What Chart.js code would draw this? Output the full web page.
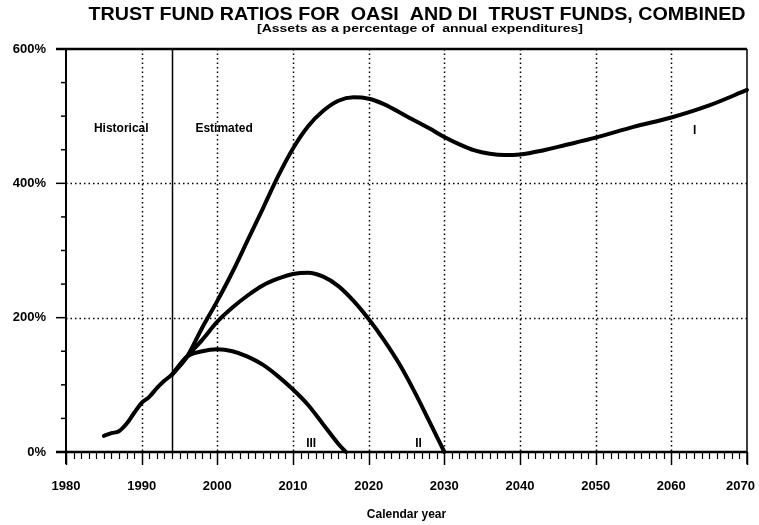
<!DOCTYPE html>
<html>
<head>
<meta charset="utf-8">
<script src="https://cdn.jsdelivr.net/npm/chart.js@4/dist/chart.umd.min.js"></script>
<style>
  html, body { margin: 0; padding: 0; background: #fff; }
  #wrap { width: 759px; height: 525px; position: relative; }
</style>
</head>
<body>
<div id="wrap"><canvas id="trustChart"></canvas></div>
<script>
// --- Data --------------------------------------------------------------------
var histYears  = [1985, 1986, 1987, 1988, 1989, 1990, 1991, 1992, 1993, 1994];
var histRatio  = [24, 28, 31, 42, 58, 73, 82, 95, 106, 115];

var altIYears  = [1994, 1996, 1998, 2000, 2002, 2004, 2006, 2008, 2010, 2012, 2014, 2016, 2018, 2020, 2022, 2025, 2028, 2030, 2032, 2034, 2036, 2038, 2040, 2043, 2046, 2050, 2055, 2060, 2065, 2070];
var altIRatio  = [115, 142, 185, 225, 268, 315, 362, 410, 452, 485, 508, 523, 528, 526, 518, 500, 482, 469, 458, 449, 444, 442, 443, 449, 457, 468, 484, 498, 516, 539];

var altIIYears = [1994, 1996, 1998, 2000, 2002, 2004, 2006, 2008, 2010, 2012, 2014, 2016, 2018, 2020, 2022, 2024, 2026, 2028, 2030];
var altIIRatio = [115, 142, 167, 194, 215, 233, 248, 258, 265, 267, 261, 247, 225, 198, 167, 132, 91, 46, 0];

var altIIIYears = [1994, 1996, 1998, 2000, 2002, 2004, 2006, 2008, 2010, 2012, 2014, 2016, 2017];
var altIIIRatio = [115, 142, 150, 153, 150, 142, 130, 113, 93, 70, 41, 12, 0];

var yearTicks    = [1980, 1990, 2000, 2010, 2020, 2030, 2040, 2050, 2060, 2070];
var percentTicks = [0, 200, 400, 600];

var titleText    = 'TRUST FUND RATIOS FOR  OASI  AND DI  TRUST FUNDS, COMBINED';
var subtitleText = '[Assets as a percentage of  annual expenditures]';

// text placed on the plot, in data units
var plotNotes = [
  { text: 'Historical', x: 1987.3, y: 482, align: 'center' },
  { text: 'Estimated',  x: 1997.1, y: 482, align: 'left' },
  { text: 'I',          x: 2063.1, y: 479, align: 'center' },
  { text: 'II',         x: 2026.6, y: 13,  align: 'center' },
  { text: 'III',        x: 2012.4, y: 13,  align: 'center' }
];
var splitYear = 1994;

// --- Helpers -----------------------------------------------------------------
function toPoints(xs, ys){
  return xs.map(function(x, i){ return { x: x, y: ys[i] }; });
}

function curve(label, xs, ys){
  return {
    label: label,
    data: toPoints(xs, ys),
    showLine: true,
    borderColor: '#000',
    borderWidth: 4,
    pointRadius: 0,
    cubicInterpolationMode: 'monotone',
    borderCapStyle: 'round',
    borderJoinStyle: 'round',
    fill: false,
    clip: 4
  };
}

var FONT = '"Liberation Sans", Arial, sans-serif';

// draws the frame, dotted grid, tick marks, notes and titles
var framePlugin = {
  id: 'framePlugin',
  beforeDatasetsDraw: function(chart){
    var ctx = chart.ctx, xs = chart.scales.x, ys = chart.scales.y;
    var a = chart.chartArea;
    ctx.save();
    ctx.strokeStyle = '#000';
    ctx.lineWidth = 1.5;
    ctx.setLineDash([1.5, 3]);
    for (var yr = 1990; yr <= 2060; yr += 10){
      var px = Math.round(xs.getPixelForValue(yr)) + 0.5;
      ctx.beginPath(); ctx.moveTo(px, a.top); ctx.lineTo(px, a.bottom); ctx.stroke();
    }
    [200, 400].forEach(function(v){
      var py = Math.round(ys.getPixelForValue(v)) + 0.5;
      ctx.beginPath(); ctx.moveTo(a.left, py); ctx.lineTo(a.right, py); ctx.stroke();
    });
    ctx.setLineDash([]);
    // historical / estimated divider
    var sx = Math.round(xs.getPixelForValue(splitYear)) + 0.5;
    ctx.lineWidth = 1.5;
    ctx.beginPath(); ctx.moveTo(sx, a.top); ctx.lineTo(sx, a.bottom); ctx.stroke();
    ctx.restore();
  },
  afterDraw: function(chart){
    var ctx = chart.ctx, xs = chart.scales.x, ys = chart.scales.y;
    var a = chart.chartArea;
    ctx.save();
    ctx.strokeStyle = '#000';

    // frame
    ctx.lineWidth = 2.5;
    ctx.beginPath(); ctx.moveTo(a.left - 10, a.top); ctx.lineTo(a.right, a.top); ctx.stroke();
    ctx.beginPath(); ctx.moveTo(a.left - 10, a.bottom); ctx.lineTo(a.right, a.bottom); ctx.stroke();
    ctx.lineWidth = 2;
    ctx.beginPath(); ctx.moveTo(a.left, a.top); ctx.lineTo(a.left, a.bottom + 12); ctx.stroke();
    ctx.lineWidth = 1.5;
    ctx.beginPath(); ctx.moveTo(a.right, a.top); ctx.lineTo(a.right, a.bottom + 12); ctx.stroke();

    // y ticks every 50 %
    ctx.lineWidth = 1.5;
    for (var v = 0; v <= 600; v += 50){
      var py = ys.getPixelForValue(v);
      var len = (v % 200 === 0) ? 10 : 5;
      ctx.beginPath(); ctx.moveTo(a.left - len, py); ctx.lineTo(a.left, py); ctx.stroke();
    }
    // x ticks every year
    for (var yr = 1980; yr <= 2070; yr++){
      var px = Math.round(xs.getPixelForValue(yr)) + 0.5;
      var l2 = (yr % 10 === 0) ? 13 : 7;
      ctx.lineWidth = (yr % 10 === 0) ? 1.5 : 1.2;
      ctx.beginPath(); ctx.moveTo(px, a.bottom); ctx.lineTo(px, a.bottom + l2); ctx.stroke();
    }

    // notes on the plot
    ctx.fillStyle = '#000';
    ctx.font = 'bold 12px ' + FONT;
    ctx.textBaseline = 'middle';
    plotNotes.forEach(function(n){
      ctx.textAlign = n.align;
      ctx.fillText(n.text, xs.getPixelForValue(n.x), ys.getPixelForValue(n.y));
    });

    // titles, squeezed to the width they have in the reference
    ctx.textAlign = 'center';
    ctx.textBaseline = 'alphabetic';
    drawFitted(ctx, titleText, 'bold 18px ' + FONT, 417, 20, 657);
    drawFitted(ctx, subtitleText, 'bold 11px ' + FONT, 420, 32, 326);
    ctx.restore();
  }
};

function drawFitted(ctx, text, font, cx, y, width){
  ctx.save();
  ctx.font = font;
  var w = ctx.measureText(text).width;
  ctx.translate(cx, y);
  ctx.scale(width / w, 1);
  ctx.fillText(text, 0, 0);
  ctx.restore();
}

// --- Chart -------------------------------------------------------------------
var canvas = document.getElementById('trustChart');
new Chart(canvas.getContext('2d'), {
  type: 'scatter',
  data: {
    datasets: [
      curve('Historical', histYears, histRatio),
      curve('I', altIYears, altIRatio),
      curve('II', altIIYears, altIIRatio),
      curve('III', altIIIYears, altIIIRatio)
    ]
  },
  options: {
    responsive: true,
    maintainAspectRatio: false,
    animation: false,
    layout: { padding: { top: 49, right: 12, bottom: 0, left: 0 } },
    plugins: {
      legend: { display: false },
      tooltip: { enabled: false }
    },
    scales: {
      x: {
        type: 'linear',
        min: 1980,
        max: 2070,
        afterFit: function(s){ s.height = 73; s.paddingLeft = 0; s.paddingRight = 0; },
        afterBuildTicks: function(s){ s.ticks = yearTicks.map(function(v){ return { value: v }; }); },
        grid: { display: false, drawTicks: false },
        border: { display: false },
        ticks: {
          padding: 27,
          color: '#000',
          font: { family: FONT, size: 13, weight: 'bold' },
          // last label nudged left so it stays on the canvas
          callback: function(v){ return v === 2070 ? '2070\u2002\u2002' : String(v); }
        },
        title: {
          display: true,
          text: 'Calendar year',
          color: '#000',
          font: { family: FONT, size: 12, weight: 'bold' },
          padding: { top: 0, bottom: 3 }
        }
      },
      y: {
        min: 0,
        max: 600,
        afterFit: function(s){ s.width = 66; s.paddingTop = 0; s.paddingBottom = 0; },
        afterBuildTicks: function(s){ s.ticks = percentTicks.map(function(v){ return { value: v }; }); },
        grid: { display: false, drawTicks: false },
        border: { display: false },
        ticks: {
          padding: 20,
          color: '#000',
          font: { family: FONT, size: 13, weight: 'bold' },
          callback: function(v){ return v + '%'; }
        }
      }
    }
  },
  plugins: [framePlugin]
});
</script>
</body>
</html>
